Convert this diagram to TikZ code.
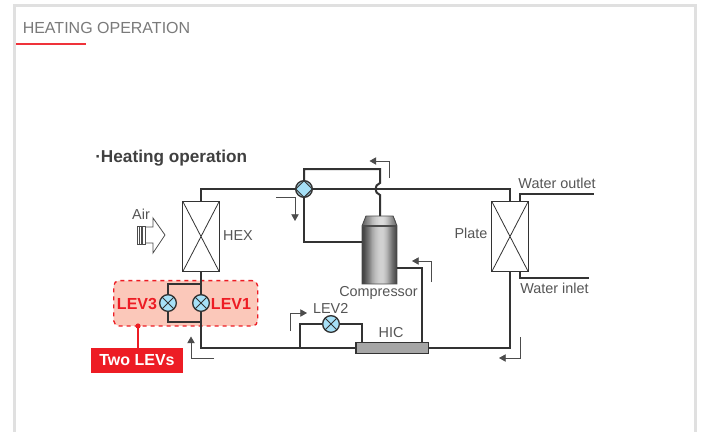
\documentclass[tikz,border=0pt]{standalone}
\usepackage{fontspec}
\setmainfont{Liberation Sans}
\usetikzlibrary{arrows.meta}
\definecolor{pipe}{HTML}{333333}
\definecolor{lab}{HTML}{555555}
\definecolor{valveblue}{HTML}{A6E0F7}
\definecolor{levred}{HTML}{ED1C24}
\definecolor{levpink}{HTML}{FBC8BA}
\tikzset{
  x=0.75pt,y=-0.75pt,
  pipeline/.style={draw=pipe,line width=1.5pt},
  flowarrow/.style={draw=black!70,line width=0.6pt,-{Triangle[length=5pt,width=5.5pt]}},
  label/.style={font=\fontsize{10.8}{12}\selectfont,text=lab,inner sep=0pt},
  levlabel/.style={font=\bfseries\fontsize{12}{14}\selectfont,text=levred,inner sep=0pt},
  xbox/.style={draw=pipe,line width=0.9pt,fill=white,minimum width=27.5pt,minimum height=53pt,inner sep=0pt,
    path picture={\draw[pipe,line width=0.6pt] (path picture bounding box.north west)--(path picture bounding box.south east)
      (path picture bounding box.north east)--(path picture bounding box.south west);}},
  valve/.style={circle,draw=pipe,line width=1pt,fill=valveblue,minimum size=12.5pt,inner sep=0pt,
    path picture={\draw[pipe,line width=0.7pt] (path picture bounding box.north west)--(path picture bounding box.south east)
      (path picture bounding box.north east)--(path picture bounding box.south west);}},
  fourway/.style={circle,draw=pipe,line width=1pt,fill=valveblue!70!gray,minimum size=12.5pt,inner sep=0pt,
    path picture={\fill[valveblue,draw=pipe,line width=0.7pt] (path picture bounding box.north)--(path picture bounding box.east)
      --(path picture bounding box.south)--(path picture bounding box.west)--cycle;}},
}
\begin{document}
\begin{tikzpicture}
\useasboundingbox (0,0) rectangle (702,432);
\fill[white] (0,0) rectangle (702,432);
% frame
\draw[draw=black!12,line width=2.3pt] (14.5,432) -- (14.5,5.5) -- (695.5,5.5) -- (695.5,432);
\node[anchor=west,font=\fontsize{12}{14}\selectfont,text=black!52,inner sep=0pt] (title) at (22.5,27.5) {HEATING OPERATION};
\coordinate (ulA) at (16,44); \coordinate (ulB) at (86,44);
\draw[levred!90,line width=1pt] (ulA) -- (ulB);
\node[anchor=west,font=\bfseries\fontsize{12.9}{14}\selectfont,text=black!75,inner sep=0pt] (head) at (95,158) {·Heating operation};

% LEV area
\node[draw=levred,dashed,line width=1pt,fill=levpink,rounded corners=4pt,minimum width=108pt,minimum height=34pt,inner sep=0pt] (levarea) at (185.7,303.3) {};
\node[fill=levred,minimum width=69pt,minimum height=18.7pt,inner sep=0pt,font=\bfseries\fontsize{12}{14}\selectfont,text=white] (twolevs) at (137,360.5) {Two LEVs};
\fill[levred] (138,326) circle (2.6);
\draw[levred,line width=0.8pt] (138,326) -- (twolevs.north -| 138,326);

% components
\node[xbox] (hex) at (201,236.5) {};
\node[xbox] (plate) at (510,236.5) {};
\node[fourway] (fw) at (304,189) {};
\node[valve] (lev1) at (201,303) {};
\node[valve] (lev3) at (168,303) {};
\node[valve] (lev2) at (331,324) {};
\node[draw=pipe,line width=0.9pt,fill=black!35,minimum width=54.5pt,minimum height=8.2pt,inner sep=0pt] (hic) at (392.3,348) {};

% compressor
\coordinate (cTopL) at (366,216); \coordinate (cTopR) at (393,216);
\coordinate (cL) at (362,226); \coordinate (cR) at (397,226);
\begin{scope}
\clip (cTopL) -- (cTopR) -- (cR) -- (397,284) -- (362,284) -- (cL) -- cycle;
\foreach \i/\g/\h in {0/75/60,1/72/58,2/70/56,3/66/53,4/62/50,5/58/46,6/54/43,7/50/40,8/45/36,9/40/32,10/35/28,11/32/26,12/29/23,13/26/21,14/24/19,15/22/18,16/20/16,17/19/15,18/18/14,19/18/14,20/18/14,21/19/15,22/21/17,23/24/19,24/27/22,25/31/25,26/36/29,27/41/33,28/46/37,29/51/41,30/56/45,31/60/48,32/64/51,33/68/54,34/72/58}{
  \fill[black!\g] (362+\i,226) rectangle (397,284);
  \fill[black!\h] (362+\i,216) rectangle (397,226);
}
\end{scope}
\draw[draw=black!70,line width=1.1pt] (cL) -- (cR);
\draw[draw=black!70,line width=0.7pt] (362,284) -- (cL) -- (cTopL) -- (cTopR) -- (cR) -- (397,284) -- cycle;
\coordinate (comp) at (380,216);

% pipes
\coordinate (loopTL) at (304,169); \coordinate (loopTR) at (380,169);
\coordinate (bumpT) at (380,183); \coordinate (bumpB) at (380,195);
\coordinate (tplate) at (510,189);
\draw[pipeline] (hex.north) |- (fw.west);
\draw[pipeline] (fw.east) -- (tplate) -- (plate.north);
\draw[pipeline] (fw.north) -- (loopTL) -- (loopTR) -- (bumpT) .. controls (374,185) and (374,193) .. (bumpB) -- (comp);
\draw[pipeline] (fw.south) -- (304,242) -- (362,242);
\draw[pipeline] (397,268) -- (422,268) -- (422,343);
\draw[pipeline] (hex.south) -- (lev1.north);
\draw[pipeline] (lev1.south) -- (201,348) -- (hic.west);
\draw[pipeline] (hic.east) -- (510,348) -- (plate.south);
\draw[pipeline] (201,284) -- (168,284) -- (lev3.north);
\draw[pipeline] (lev3.south) -- (168,322) -- (201,322);
\draw[pipeline] (300,348) -- (300,324) -- (lev2.west);
\draw[pipeline] (lev2.east) -- (362,324) -- (362,343);
% water
\draw[pipeline] (520,201) -- (520,194) -- (594,194);
\draw[pipeline] (520,272) -- (520,278) -- (589,278);

% flow arrows
\draw[flowarrow] (276,197) -- (295,197) -- (295,221);
\draw[flowarrow] (389.5,178) -- (389.5,161) -- (369.5,161);
\draw[flowarrow] (431,282) -- (431,261) -- (412,261);
\draw[flowarrow] (290,331) -- (290,313) -- (307,313);
\draw[flowarrow] (214,358.5) -- (191,358.5) -- (191,336.5);
\draw[flowarrow] (520,337) -- (520,358) -- (499,358);

% air arrow
\draw[draw=black!70,line width=0.6pt,fill=white] (145,227) -- (153,227) -- (153,218) -- (165,235) -- (153,253) -- (153,243) -- (145,243);
\draw[draw=black!70,line width=0.6pt] (137,226.5) rectangle (145,244);
\foreach \xx in {139.5,142}
  \draw[draw=black!70,line width=0.8pt] (\xx,226.5) -- (\xx,244);

% labels
\node[label] (air) at (141,214) {Air};
\node[label] (hexl) at (238,236) {HEX};
\node[label] (platel) at (471,233.5) {Plate};
\node[label] (wout) at (557,183) {Water outlet};
\node[label] (win) at (554.5,288) {Water inlet};
\node[label] (compl) at (378.5,293) {Compressor};
\node[label] (lev2l) at (330.7,308) {LEV2};
\node[label] (hicl) at (391,333) {HIC};
\node[levlabel] (lev3l) at (137,303.5) {LEV3};
\node[levlabel] (lev1l) at (231,303.5) {LEV1};
\end{tikzpicture}
\end{document}
